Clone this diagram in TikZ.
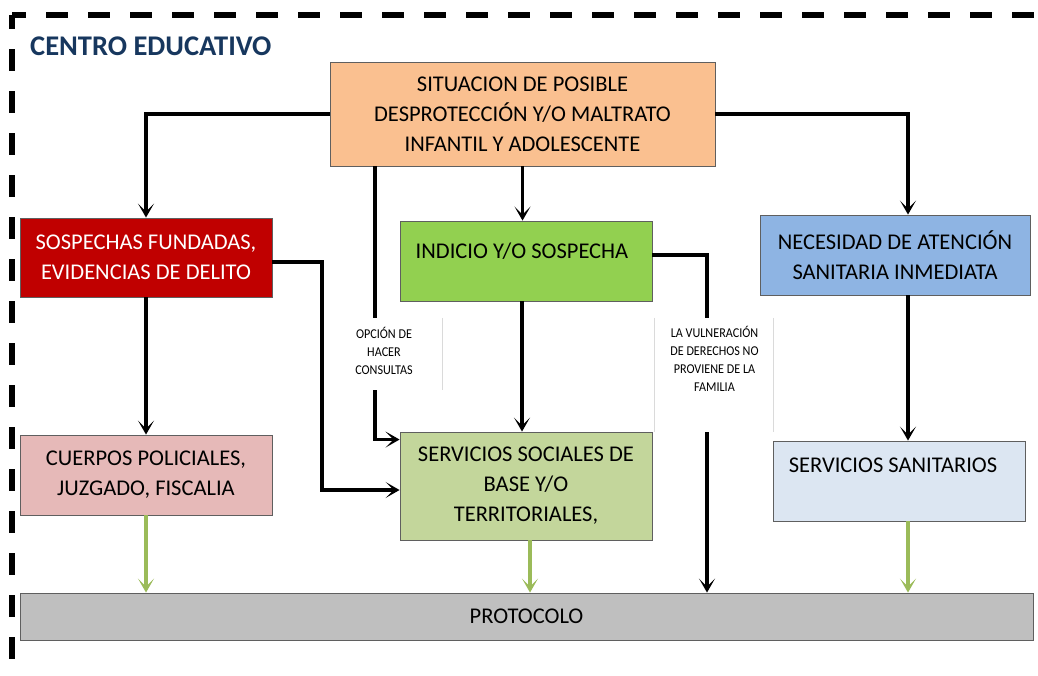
\documentclass[tikz,border=0pt]{standalone}
\usepackage{fontspec}
\setmainfont{Carlito}
\newfontfamily\narrowfont[FakeStretch=0.9]{Carlito}
\usetikzlibrary{arrows.meta}
\definecolor{cOrange}{HTML}{FAC090}
\definecolor{cRed}{HTML}{C00000}
\definecolor{cGreen}{HTML}{92D050}
\definecolor{cBlue}{HTML}{8EB4E3}
\definecolor{cPink}{HTML}{E6B9B8}
\definecolor{cLGreen}{HTML}{C3D69B}
\definecolor{cLBlue}{HTML}{DCE6F2}
\definecolor{cGray}{HTML}{BFBFBF}
\definecolor{cArrGreen}{HTML}{9BBB59}
\definecolor{cTitle}{HTML}{17375E}
\definecolor{cEdge}{HTML}{5F5F5F}
\definecolor{cFaint}{HTML}{DADADA}
\begin{document}
\begin{tikzpicture}[x=1pt,y=-1pt,
  box/.style={draw=cEdge, line width=0.9pt, inner sep=0pt, align=center,
    font=\fontsize{22.5}{30}\selectfont},
  btext/.style={inner sep=0pt, align=center, font=\fontsize{22.5}{30}\selectfont},
  conn/.style={line width=3.4pt, draw=black,
    -{Stealth[length=14pt,width=16pt,inset=8pt]}},
  gconn/.style={conn, draw=cArrGreen, fill=cArrGreen},
  lblbox/.style={fill=white, inner sep=0pt},
  lbltext/.style={inner sep=0pt, align=center, font=\narrowfont\fontsize{13.5}{18}\selectfont},
  faint/.style={draw=cFaint, line width=0.8pt},
  frame/.style={line width=5.5pt, dash pattern=on 22pt off 20pt, dash phase=8pt}
]
\useasboundingbox (0,0) rectangle (1038,675);
% dashed frame
\draw[frame] (12,15) -- (12,675);
\draw[frame] (12,15) -- (1038,15);
\node[anchor=west, inner sep=0pt, text=cTitle, font=\fontsize{28.5}{32}\selectfont\bfseries] (title) at (30,46) {CENTRO EDUCATIVO};

% boxes
\node[box, fill=cOrange, minimum width=385pt, minimum height=104pt] (top) at (522.5,114)
  {SITUACION DE POSIBLE\\DESPROTECCIÓN Y/O MALTRATO\\INFANTIL Y ADOLESCENTE};
\node[box, fill=cRed, text=white, minimum width=252pt, minimum height=79pt] (red) at (146,257.5)
  {SOSPECHAS FUNDADAS,\\EVIDENCIAS DE DELITO};
\node[box, fill=cGreen, minimum width=252pt, minimum height=80pt] (green) at (526,261) {};
\node[btext] (greentxt) at (522,251) {INDICIO Y/O SOSPECHA};
\node[box, fill=cBlue, minimum width=270pt, minimum height=80pt] (blue) at (895,255)
  {NECESIDAD DE ATENCIÓN\\SANITARIA INMEDIATA};
\node[box, fill=cPink, minimum width=252pt, minimum height=80pt] (pink) at (146,475)
  {CUERPOS POLICIALES,\\JUZGADO, FISCALIA};
\node[box, fill=cLGreen, minimum width=252pt, minimum height=108pt] (ssb) at (526,486)
  {SERVICIOS SOCIALES DE\\BASE Y/O\\TERRITORIALES,};
\node[box, fill=cLBlue, minimum width=252pt, minimum height=80pt] (san) at (899,481) {};
\node[btext] (santxt) at (893,465) {SERVICIOS SANITARIOS};
\node[box, fill=cGray, minimum width=1013pt, minimum height=47pt] (prot) at (526.5,616.5) {PROTOCOLO};

% helper coordinates
\coordinate (optx) at (375,0);
\coordinate (redx) at (322,0);
\coordinate (vx) at (707,0);
\coordinate (ssbtop) at ([yshift=-8pt]ssb.north west);
\coordinate (ssbin) at ([yshift=-4pt]ssb.west);
\coordinate (redout) at ([yshift=-4.5pt]red.east);
\coordinate (greenout) at ([yshift=6pt]green.east);
\coordinate (bluex) at ([xshift=13pt]blue.north);

% black connectors
\draw[conn] (top.west) -| (red.north);
\draw[conn] (top.east) -| (bluex);
\draw[conn] (top.south) -- (top.south |- green.north);
\draw[conn] (top.south -| optx) |- (ssbtop);
\draw[conn] (redout) -| (ssbin -| redx) -- (ssbin);
\draw[conn] (red.south) -- (pink.north);
\draw[conn] ([xshift=-4pt]green.south) -- ([xshift=-4pt]green.south |- ssb.north);
\draw[conn] (greenout) -| (vx |- prot.north);
\draw[conn] (bluex |- blue.south) -- (bluex |- san.north);

% green connectors
\draw[gconn] (pink.south) -- (pink.south |- prot.north);
\draw[gconn] ([xshift=4pt]ssb.south) -- ([xshift=4pt]ssb.south |- prot.north);
\draw[gconn] (bluex |- san.south) -- (bluex |- prot.north);

% label boxes
\node[lblbox, minimum width=114pt, minimum height=72pt] (optbox) at (385,354) {};
\draw[faint] (optbox.north east) -- (optbox.south east);
\node[lbltext] (opttxt) at (384,351) {OPCIÓN DE\\HACER\\CONSULTAS};
\node[lblbox, minimum width=118pt, minimum height=114pt] (vulnbox) at (714,375) {};
\draw[faint] (vulnbox.north west) -- (vulnbox.south west);
\draw[faint] (vulnbox.north east) -- (vulnbox.south east);
\node[lbltext] (vulntxt) at (714.5,359) {LA VULNERACIÓN\\DE DERECHOS NO\\PROVIENE DE LA\\FAMILIA};
\end{tikzpicture}
\end{document}
